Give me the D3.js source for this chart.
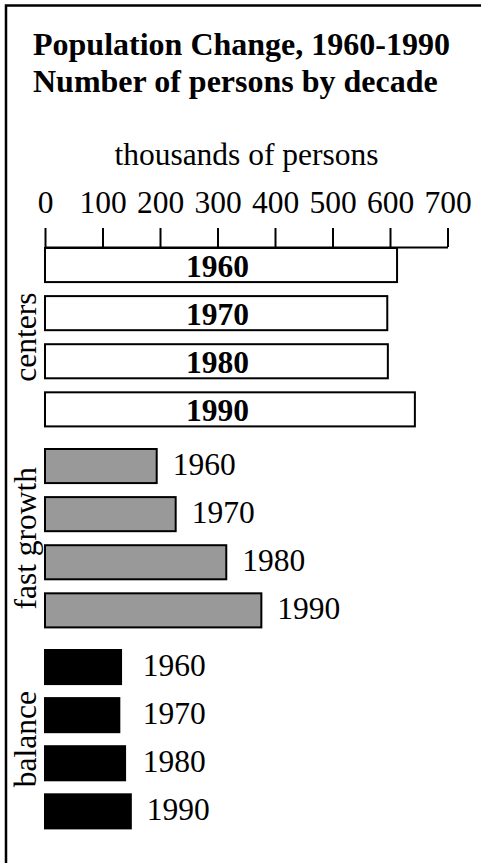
<!DOCTYPE html>
<html>
<head>
<meta charset="utf-8">
</head>
<body style="margin:0">
<svg width="481" height="863"></svg>
<script src="https://d3js.org/d3.v7.min.js"></script>
<script>

var groups = ["centers", "fast growth", "balance"];
var years = ["1960", "1970", "1980", "1990"];
var centers = [614, 597, 598, 645];
var fastGrowth = [196, 229, 317, 378];
var balance = [134, 131, 141, 151];
var tickValues = [0, 100, 200, 300, 400, 500, 600, 700];

var series = [centers, fastGrowth, balance];
var fills = ["#ffffff", "#999999", "#000000"];
var serif = "'Liberation Serif'";

var data = [];
groups.forEach(function(g, i) {
	years.forEach(function(y, j) {
		data.push({group: g, gi: i, year: y, value: series[i][j]});
	});
});

var svg = d3.select("svg");

// frame (only top and left edges show in the crop)
svg.append("path")
	.attr("d", "M6,863V5.5H481")
	.attr("fill", "none")
	.attr("stroke", "#000")
	.attr("stroke-width", 2.5);

// titles
svg.append("text").attr("x", 33).attr("y", 55)
	.style("font-family", serif).style("font-size", "32px").style("font-weight", "bold")
	.text("Population Change, 1960-1990");
svg.append("text").attr("x", 33).attr("y", 92)
	.style("font-family", serif).style("font-size", "32px").style("font-weight", "bold")
	.text("Number of persons by decade");

var x = d3.scaleLinear().domain([0, 700]).range([45, 447.5]);

svg.append("text")
	.attr("x", 246.5).attr("y", 165)
	.attr("text-anchor", "middle")
	.style("font-family", serif).style("font-size", "31.5px")
	.text("thousands of persons");

var axis = svg.append("g")
	.attr("transform", "translate(0,247)")
	.call(d3.axisTop(x).tickValues(tickValues).tickSize(19).tickSizeOuter(0).tickPadding(15));
axis.attr("font-family", null).attr("font-size", null);
axis.selectAll("path, line").attr("stroke", "#000").attr("stroke-width", 2);
axis.selectAll("text")
	.attr("fill", "#000")
	.style("font-family", serif)
	.style("font-size", "31.5px");

var yGroup = d3.scaleBand().domain(groups).range([247, 850]);
var yYear = d3.scaleBand().domain(years).range([0, 180.4]).paddingInner(0.25);

var bars = svg.append("g");

bars.selectAll("rect")
	.data(data)
	.enter().append("rect")
	.attr("x", x(0))
	.attr("y", function(d) { return yGroup(d.group) + yYear(d.year) + 1; })
	.attr("width", function(d) { return x(d.value) - x(0) - 1; })
	.attr("height", yYear.bandwidth() - 2)
	.attr("fill", function(d) { return fills[d.gi]; })
	.attr("stroke", "#000")
	.attr("stroke-width", 2);

bars.selectAll("text.lbl")
	.data(data)
	.enter().append("text")
	.attr("class", "lbl")
	.attr("x", function(d) {
		if (d.gi == 0) return x(300);
		return Math.max(x(d.value) + 15, x(170));
	})
	.attr("y", function(d) {
		var c = yGroup(d.group) + yYear(d.year) + yYear.bandwidth() / 2;
		return d.gi == 0 ? c + 11.5 : c + 8.5;
	})
	.attr("text-anchor", function(d) { return d.gi == 0 ? "middle" : "start"; })
	.style("font-family", serif)
	.style("font-size", "31.5px")
	.style("font-weight", function(d) { return d.gi == 0 ? "bold" : "normal"; })
	.text(function(d) { return d.year; });

svg.selectAll("text.grp")
	.data(groups)
	.enter().append("text")
	.attr("class", "grp")
	.attr("transform", function(d) {
		return "translate(36," + (yGroup(d) + 180.4 / 2) + ") rotate(-90)";
	})
	.attr("text-anchor", "middle")
	.style("font-family", serif)
	.style("font-size", "31.5px")
	.text(function(d) { return d; });

</script>
</body>
</html>
